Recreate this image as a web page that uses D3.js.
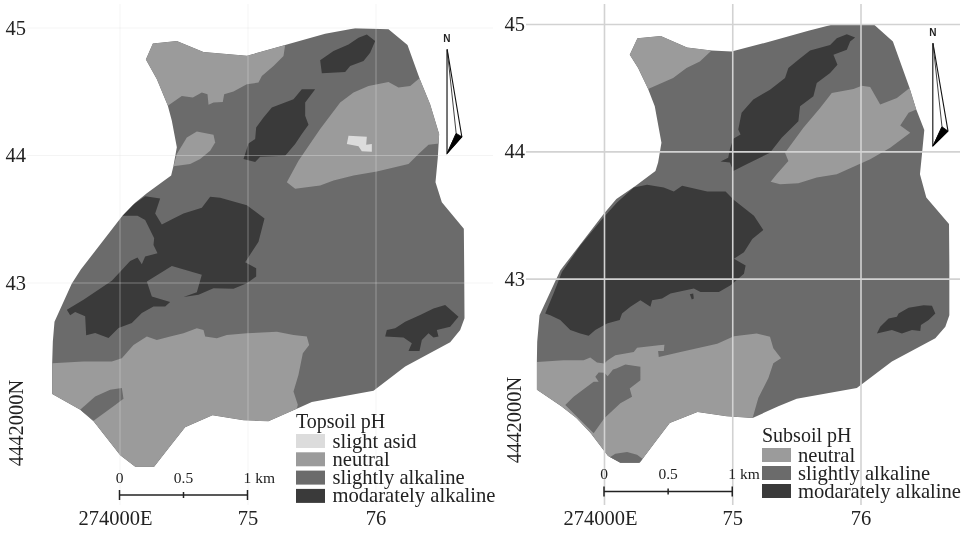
<!DOCTYPE html>
<html><head><meta charset="utf-8">
<script src="https://cdn.jsdelivr.net/npm/d3@7"></script>
<style>html,body{margin:0;padding:0;background:#fff}svg{display:block;filter:blur(0.45px)}text{font-family:"Liberation Serif",serif;fill:#222}</style>
</head><body><svg id="c" width="966" height="533"></svg>
<script>
// Map vertices are [east, north] in survey-grid units from 274000E / 4442000N; 384 units = 1 km.
const unitsPerKm = 384;
const eastTicks = [0, 1, 2];
const eastLabels = ["274000E", "75", "76"];
const northTicks = [1, 2, 3];
const northLabels = ["43", "44", "45"];
const originNorthLabel = "4442000N";
const scaleKm = [0, 0.5, 1];
const scaleLabels = ["0", "0.5", "1 km"];

const phColors = { acid: "#dcdcdc", neutral: "#9b9b9b", alkaline: "#6b6b6b", moderate: "#3a3a3a" };
const topsoilLegend = [["slight asid", "acid"], ["neutral", "neutral"], ["slightly alkaline", "alkaline"], ["modarately alkaline", "moderate"]];
const subsoilLegend = [["neutral", "neutral"], ["slightly alkaline", "alkaline"], ["modarately alkaline", "moderate"]];

const topOutline = [[79,1056],[100,1104],[172,1111],[252,1078],[382,1067],[497,1099],[617,1133],[707,1150],[807,1147],[864,1099],[900,999],[932,921],[959,831],[955,761],[948,686],[967,626],[1033,546],[1034,436],[1035,276],[1022,241],[992,204],[857,131],[762,58],[577,24],[532,4],[447,-34],[372,-31],[279,-16],[197,-52],[152,-109],[104,-171],[47,-171],[2,-136],[-78,-34],[-118,1],[-202,48],[-202,141],[-200,206],[-195,266],[-143,381],[-116,423],[7,583],[47,624],[82,653],[155,706],[162,736],[172,791],[157,871],[145,916],[112,996]];
const topNeutralNW = [[79,1056],[100,1104],[172,1111],[252,1078],[382,1067],[497,1099],[492,1066],[462,1036],[427,1006],[417,986],[382,981],[342,959],[314,951],[310,928],[282,926],[267,919],[264,951],[247,956],[220,941],[187,946],[145,916],[112,996]];
const topNeutralBlob = [[172,771],[202,821],[232,839],[282,829],[287,806],[272,781],[242,756],[212,741],[162,734]];
const topNeutralEast = [[502,686],[537,751],[602,846],[662,926],[702,956],[747,976],[807,988],[837,971],[872,976],[900,999],[932,921],[959,831],[959,803],[927,799],[897,771],[867,741],[772,718],[702,706],[642,691],[602,676],[527,666]];
const topAcid = [[687,826],[742,823],[740,799],[757,801],[757,778],[727,779],[717,794],[682,801]];
const topNeutralSouth = [[-202,141],[-108,146],[-23,146],[7,156],[42,196],[82,221],[112,211],[152,221],[192,231],[232,246],[252,241],[257,221],[292,216],[322,226],[382,231],[472,236],[522,226],[562,221],[569,196],[550,171],[537,106],[522,56],[535,16],[532,4],[447,-34],[372,-31],[279,-16],[197,-52],[152,-109],[104,-171],[47,-171],[2,-136],[-78,-34],[-118,1],[-202,48]];
const topAlkalinePatch = [[-118,1],[-73,41],[-28,61],[7,66],[12,34],[-18,11],[-78,-32]];
const topDarkNE = [[602,1053],[642,1081],[687,1101],[717,1121],[742,1131],[767,1111],[752,1076],[732,1051],[692,1036],[677,1018],[607,1014]];
const topDarkRidge = [[547,966],[587,966],[557,926],[557,886],[567,859],[547,831],[527,801],[497,766],[422,763],[407,747],[372,756],[387,803],[407,816],[410,851],[432,881],[457,911],[522,936]];
const topDarkWest = [[7,585],[32,612],[77,644],[122,637],[107,592],[127,559],[162,577],[192,592],[247,609],[272,642],[302,639],[382,617],[435,577],[417,507],[377,445],[410,427],[410,402],[382,382],[342,365],[282,367],[237,347],[192,340],[232,355],[247,407],[157,434],[82,387],[97,342],[152,325],[137,312],[102,312],[67,292],[37,262],[-3,247],[-33,217],[-73,232],[-100,225],[-103,282],[-133,295],[-148,285],[-158,302],[-108,332],[-23,389],[32,449],[54,459],[67,439],[77,462],[114,472],[102,497],[104,517],[77,572],[54,585]];
const topDarkSE = [[797,221],[802,241],[827,246],[857,266],[902,286],[942,306],[977,316],[1017,281],[992,251],[952,241],[957,221],[942,218],[927,231],[907,211],[900,178],[867,178],[877,201],[852,218]];

const subOutline = [[77,1059],[100,1109],[170,1116],[249,1081],[322,1072],[382,1069],[497,1099],[612,1132],[682,1150],[809,1150],[865,1099],[915,959],[935,894],[959,832],[953,769],[946,699],[965,629],[1033,549],[1034,429],[1034,274],[1022,239],[992,204],[862,134],[757,54],[577,22],[522,-1],[445,-36],[367,-31],[280,-18],[197,-51],[152,-111],[107,-171],[49,-171],[12,-151],[-41,-81],[-83,-36],[-128,-1],[-201,49],[-201,134],[-200,194],[-193,274],[-131,409],[-123,419],[-1,579],[37,624],[95,664],[154,709],[162,734],[172,794],[152,904],[132,956],[102,1019]];
const subNeutralNW = [[77,1059],[100,1109],[170,1116],[249,1081],[322,1072],[287,1039],[247,1019],[207,989],[132,956],[102,1019]];
const subNeutralEast = [[499,676],[517,699],[552,739],[542,764],[597,839],[647,899],[682,944],[747,956],[772,966],[797,962],[827,909],[877,929],[915,959],[935,894],[912,884],[887,846],[917,824],[857,779],[797,744],[697,699],[637,689],[582,672],[527,669]];
const subNeutralSouth = [[-201,133],[-121,138],[-61,138],[-41,146],[-21,131],[1,128],[11,138],[34,153],[89,163],[99,176],[164,183],[181,185],[179,166],[162,166],[164,148],[229,163],[339,188],[389,210],[457,219],[497,209],[507,174],[530,144],[507,129],[492,84],[462,24],[445,-36],[367,-31],[280,-18],[197,-51],[152,-111],[107,-171],[49,-171],[12,-151],[-41,-81],[-83,-36],[-128,-1],[-201,49]];
const subAlkalinePatch = [[-116,3],[-91,28],[-31,73],[-16,73],[-26,88],[-16,101],[1,100],[11,90],[27,110],[37,113],[64,125],[109,118],[109,78],[77,53],[84,28],[49,8],[1,-37],[-31,-82],[-71,-42],[-86,-27]];
const subAlkalineCap = [[14,-157],[34,-144],[69,-139],[99,-147],[116,-160],[99,-177],[19,-177]];
const subDarkRidge = [[752,1111],[727,1121],[697,1109],[677,1089],[617,1072],[582,1044],[552,1019],[542,989],[497,954],[447,924],[412,884],[402,834],[409,819],[387,806],[377,774],[372,749],[349,737],[377,734],[387,709],[427,729],[497,764],[532,809],[582,859],[587,904],[627,934],[637,974],[677,1004],[699,1029],[687,1059],[727,1074],[737,1099]];
const subDarkWest = [[-176,279],[-151,339],[-126,404],[-71,484],[-1,569],[39,614],[89,659],[129,667],[179,659],[209,647],[234,664],[309,647],[364,647],[389,621],[449,574],[477,531],[444,504],[419,464],[389,444],[424,424],[419,399],[379,364],[344,344],[289,344],[269,354],[199,339],[174,324],[144,319],[139,299],[109,319],[79,299],[54,279],[47,259],[9,249],[-26,229],[-46,212],[-71,219],[-101,229],[-131,259],[-161,274]];
const subDarkSpeck = [[257,337],[267,339],[269,324],[263,321]];
const subDarkSE = [[817,219],[827,239],[852,264],[877,269],[882,279],[912,296],[957,304],[982,302],[992,279],[972,259],[949,244],[947,226],[922,229],[892,219],[862,229]];

const topNorthArrow = { apex: [983,1086], foot: [983,773], wing: [1027,823], inner: [1010,833], label: [982,1119] };
const subNorthArrow = { apex: [985,1094], foot: [985,784], wing: [1030,829], inner: [1012,842], label: [985,1127] };

const panels = [
  { id: "top", xr: [119.5, 375.5], yr: [410, 27.5], outline: topOutline, arrow: topNorthArrow, legend: topsoilLegend, title: "Topsoil pH",
    layers: [[topNeutralNW,"neutral"],[topNeutralBlob,"neutral"],[topNeutralEast,"neutral"],[topAcid,"acid"],[topNeutralSouth,"neutral"],[topAlkalinePatch,"alkaline"],[topDarkNE,"moderate"],[topDarkRidge,"moderate"],[topDarkWest,"moderate"],[topDarkSE,"moderate"]],
    grid: { color: "rgba(225,225,225,0.38)", w: 1, left: 27, right: 493, top: 4, bottom: 505 },
    labelE0: 115, northX: 23, northY: 423, eBase: 5.5,
    bar: { y: 495, label: 483 }, legendAt: { x: 296, titleY: 428, swatchY: 434, pitch: 18.3, textX: 332.5 } },
  { id: "sub", xr: [604, 860.5], yr: [406, 24], outline: subOutline, arrow: subNorthArrow, legend: subsoilLegend, title: "Subsoil pH",
    layers: [[subNeutralNW,"neutral"],[subNeutralEast,"neutral"],[subNeutralSouth,"neutral"],[subAlkalinePatch,"alkaline"],[subAlkalineCap,"alkaline"],[subDarkRidge,"moderate"],[subDarkWest,"moderate"],[subDarkSpeck,"moderate"],[subDarkSE,"moderate"]],
    grid: { color: "#d2d2d2", w: 1.6, left: 526, right: 960, top: 4, bottom: 505 },
    labelE0: 600, northX: 521, northY: 420, eBase: 5.5,
    bar: { y: 491.5, label: 479 }, legendAt: { x: 762, titleY: 442, swatchY: 448, pitch: 18, textX: 798 } }
];

const svg = d3.select("#c");
const defs = svg.append("defs");

panels.forEach(p => {
  const x = d3.scaleLinear().domain([0, 2]).range(p.xr);
  const y = d3.scaleLinear().domain([0, 3]).range(p.yr);
  const line = d3.line().x(d => x(d[0] / unitsPerKm)).y(d => y(d[1] / unitsPerKm)).curve(d3.curveLinearClosed);
  const g = svg.append("g").attr("id", p.id);

  defs.append("clipPath").attr("id", "clip-" + p.id).append("path").attr("d", line(p.outline));
  g.append("path").attr("d", line(p.outline)).attr("fill", phColors.alkaline);
  g.append("g").attr("clip-path", `url(#clip-${p.id})`)
    .selectAll("path").data(p.layers).join("path")
    .attr("d", d => line(d[0])).attr("fill", d => phColors[d[1]]);

  // grid + tick labels via axes
  const gr = p.grid;
  const xAxis = d3.axisBottom(x).tickValues(eastTicks).tickFormat((d, i) => eastLabels[i])
    .tickSizeInner(-(gr.bottom - gr.top)).tickSizeOuter(0).tickPadding(p.eBase);
  const ax = g.append("g").attr("transform", `translate(0,${gr.bottom})`).call(xAxis);
  const yAxis = d3.axisLeft(y).tickValues(northTicks).tickFormat((d, i) => northLabels[i])
    .tickSizeInner(-(gr.right - gr.left)).tickSizeOuter(0).tickPadding(1);
  const ay = g.append("g").attr("transform", `translate(${gr.left},0)`).call(yAxis);
  [ax, ay].forEach(a => {
    a.select(".domain").remove();
    a.attr("font-family", null).attr("font-size", null);
    a.selectAll("line").attr("stroke", gr.color).attr("stroke-width", gr.w);
    a.selectAll("text").attr("font-size", 20.5).attr("fill", "#222").style("font-family", '"Liberation Serif",serif');
  });
  ax.selectAll("text").filter((d, i) => i === 0).attr("x", p.labelE0 - x(0));
  g.append("text").attr("transform", `translate(${p.northX},${p.northY}) rotate(-90)`)
    .attr("text-anchor", "middle").attr("font-size", 20.5).text(originNorthLabel);

  // scale bar
  const b = p.bar;
  const sb = g.append("g");
  const kmX = d => x(d);
  sb.append("line").attr("x1", kmX(scaleKm[0])).attr("x2", kmX(scaleKm[2])).attr("y1", b.y).attr("y2", b.y).attr("stroke", "#222").attr("stroke-width", 1.6);
  sb.selectAll("line.t").data(scaleKm).join("line").attr("class", "t")
    .attr("x1", kmX).attr("x2", kmX)
    .attr("y1", (d, i) => i === 1 ? b.y - 3 : b.y - 5).attr("y2", (d, i) => i === 1 ? b.y + 3 : b.y + 5)
    .attr("stroke", "#222").attr("stroke-width", 1.5);
  sb.selectAll("text").data(scaleKm).join("text")
    .attr("x", (d, i) => i === 2 ? kmX(d) - 4 : kmX(d)).attr("y", b.label)
    .attr("text-anchor", (d, i) => i === 2 ? "start" : "middle")
    .attr("font-size", 15.5).text((d, i) => scaleLabels[i]);

  // north arrow
  const a = p.arrow, px = d => x(d[0] / unitsPerKm), py = d => y(d[1] / unitsPerKm);
  const n = g.append("g");
  n.append("path").attr("d", line([a.apex, a.foot, a.wing])).attr("fill", "#fff").attr("stroke", "#111").attr("stroke-width", 1.1);
  n.append("path").attr("d", line([a.apex, a.foot, a.inner])).attr("fill", "#fff").attr("stroke", "#111").attr("stroke-width", 0.8);
  n.append("path").attr("d", line([a.foot, a.inner, a.wing])).attr("fill", "#000").attr("stroke", "#000").attr("stroke-width", 0.8);
  n.append("text").attr("x", px(a.label)).attr("y", py(a.label)).attr("dy", "0.36em").attr("text-anchor", "middle")
    .style("font-family", '"Liberation Sans",sans-serif').attr("font-weight", "bold").attr("font-size", 10).text("N");

  // legend
  const L = p.legendAt;
  const lg = g.append("g");
  lg.append("text").attr("x", L.x).attr("y", L.titleY).attr("font-size", 20).text(p.title);
  lg.selectAll("rect").data(p.legend).join("rect")
    .attr("x", L.x).attr("y", (d, i) => L.swatchY + i * L.pitch).attr("width", 29).attr("height", 14)
    .attr("fill", d => phColors[d[1]]);
  lg.selectAll("text.i").data(p.legend).join("text").attr("class", "i")
    .attr("x", L.textX).attr("y", (d, i) => L.swatchY + 13.5 + i * L.pitch).attr("font-size", 20.6).text(d => d[0]);
});
</script></body></html>
